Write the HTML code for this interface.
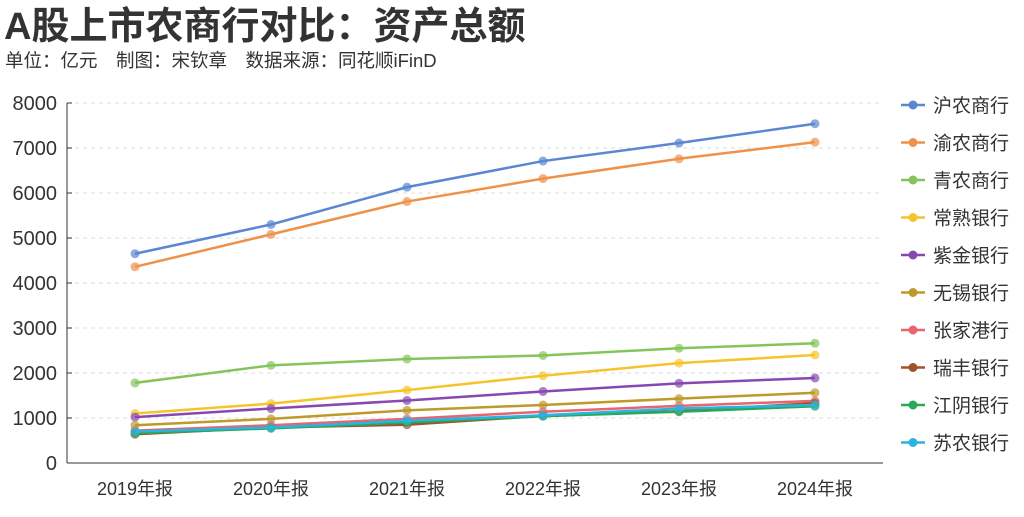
<!DOCTYPE html>
<html><head><meta charset="utf-8"><style>
body{margin:0;width:1024px;height:512px;background:#fff;overflow:hidden;font-family:"Liberation Sans","Noto Sans CJK SC",sans-serif;}
</style></head><body>
<svg id="c" width="1024" height="512" xmlns="http://www.w3.org/2000/svg" font-family="Liberation Sans,Noto Sans CJK SC,sans-serif">
<text x="4" y="39" font-size="38" font-weight="bold" fill="#333">A股上市农商行对比：资产总额</text>
<text x="5" y="67" font-size="18.5" fill="#333">单位：亿元　制图：宋钦章　数据来源：同花顺iFinD</text>
</svg>
<script>
const categories=["2019年报","2020年报","2021年报","2022年报","2023年报","2024年报"];
const seriesNames=["沪农商行","渝农商行","青农商行","常熟银行","紫金银行","无锡银行","张家港行","瑞丰银行","江阴银行","苏农银行"];
const colors=["#5b86d1","#f0914a","#84c45a","#f5c42a","#8748b1","#bd9a2a","#e8646e","#a0522d","#2aa85a","#2bb4e0"];
const s1=[4650,5300,6130,6710,7110,7540];
const s2=[4360,5080,5810,6320,6760,7130];
const s3=[1780,2170,2310,2390,2550,2660];
const s4=[1100,1320,1620,1940,2220,2400];
const s5=[1020,1210,1390,1590,1770,1890];
const s6=[840,980,1170,1290,1430,1560];
const s7=[720,840,980,1140,1270,1380];
const s8=[640,790,850,1050,1150,1330];
const s9=[660,770,900,1040,1140,1260];
const s10=[700,790,940,1060,1210,1290];
const yTicks=[0,1000,2000,3000,4000,5000,6000,7000,8000];
const series=[s1,s2,s3,s4,s5,s6,s7,s8,s9,s10];
const NS="http://www.w3.org/2000/svg",svg=document.getElementById('c');
const X0=67,X1=883,Y0=463,Y1=103;
const xs=i=>135+i*(815-135)/(categories.length-1);
const ys=v=>Y0-(v/8000)*(Y0-Y1);
function mk(t,a){const e=document.createElementNS(NS,t);for(const k in a)e.setAttribute(k,a[k]);svg.appendChild(e);return e;}
yTicks.forEach(v=>{
 if(v>0){const g=mk('line',{x1:X0,x2:X1,y1:ys(v),y2:ys(v),stroke:'#ddd','stroke-dasharray':'4,4'});
 
 }
 const t=mk('text',{x:57,y:ys(v)+7,'text-anchor':'end','font-size':20,fill:'#333'});t.textContent=v;
 
 
 const tk=mk('line',{x1:X0,x2:X0+5,y1:ys(v),y2:ys(v),stroke:'#333'});
 
 
});
const ya=mk('line',{x1:X0,x2:X0,y1:Y1,y2:Y0,stroke:'#333'});


const xa=mk('line',{x1:X0,x2:X1,y1:Y0,y2:Y0,stroke:'#333'});


categories.forEach((c,i)=>{
 const t=mk('text',{x:xs(i),y:Y0+32,'text-anchor':'middle','font-size':18,fill:'#333'});t.textContent=c;
 
 
});
series.forEach((s,k)=>{
 const p=mk('polyline',{points:s.map((v,i)=>xs(i)+','+ys(v)).join(' '),fill:'none',stroke:colors[k],'stroke-width':2.5});
 
 
 s.forEach((v,i)=>{const d=mk('circle',{cx:xs(i),cy:ys(v),r:4.5,fill:colors[k],'fill-opacity':0.7});
 
 });
 const ly=105+k*37.5;
 const ll=mk('line',{x1:901,x2:925,y1:ly,y2:ly,stroke:colors[k],'stroke-width':2.5});
 
 
 const lc=mk('circle',{cx:913,cy:ly,r:4.5,fill:colors[k]});
 
 
 const lt=mk('text',{x:933,y:ly+7,'font-size':19,fill:'#333'});lt.textContent=seriesNames[k];
 
 
});
</script>
</body></html>
